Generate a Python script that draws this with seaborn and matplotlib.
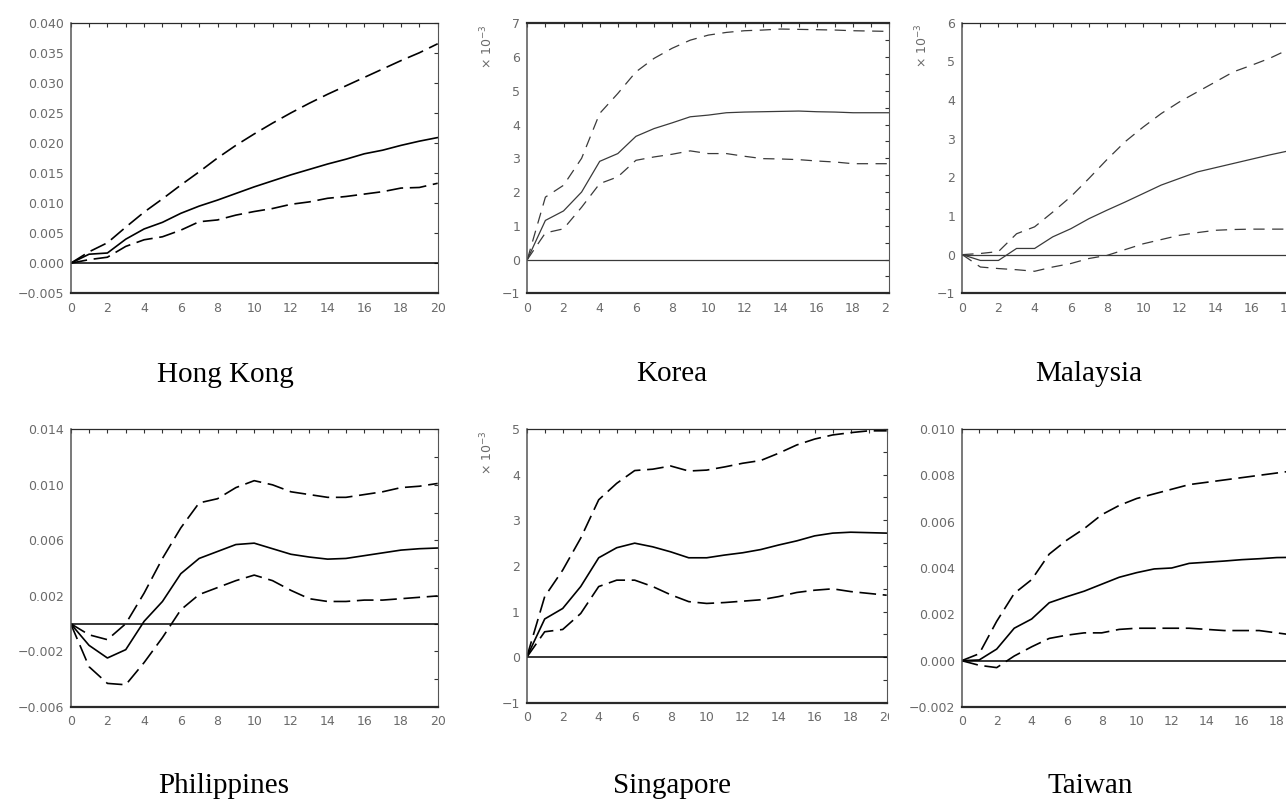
import numpy as np
import matplotlib
matplotlib.use('Agg')
import matplotlib.pyplot as plt
from matplotlib.patches import Rectangle
from matplotlib.ticker import FixedLocator, FuncFormatter
import seaborn as sns

# horizon (quarters after the shock)
steps = list(range(21))

# impulse responses with lower / upper bands
hk_irf = [0, .0015, .0017, .0040, .0057, .0068, .0083, .0095, .0105, .0116, .0127,
          .0137, .0147, .0156, .0165, .0173, .0182, .0188, .0196, .0203, .0209]
hk_upper = [0, .0019, .0034, .0060, .0085, .0107, .0130, .0152, .0175, .0196, .0215,
            .0233, .0250, .0266, .0281, .0295, .0309, .0323, .0337, .0350, .0365]
hk_lower = [0, .0006, .0010, .0028, .0039, .0044, .0055, .0069, .0072, .0080, .0086,
            .0091, .0098, .0102, .0108, .0111, .0115, .0119, .0125, .0126, .0133]

# Korea, Malaysia, Singapore in units of 10^-3
kr_irf = [0, 1.16, 1.44, 2.00, 2.91, 3.14, 3.65, 3.88, 4.05, 4.23, 4.28,
          4.35, 4.37, 4.38, 4.39, 4.40, 4.38, 4.37, 4.35, 4.35, 4.35]
kr_upper = [0, 1.85, 2.20, 3.00, 4.33, 4.92, 5.56, 5.96, 6.26, 6.50, 6.65,
            6.73, 6.78, 6.80, 6.83, 6.82, 6.81, 6.80, 6.78, 6.77, 6.76]
kr_lower = [0, 0.79, 0.91, 1.55, 2.25, 2.45, 2.94, 3.04, 3.12, 3.22, 3.14,
            3.14, 3.06, 2.99, 2.98, 2.96, 2.92, 2.89, 2.84, 2.84, 2.84]

my_irf = [0, -0.15, -0.15, 0.16, 0.16, 0.46, 0.67, 0.93, 1.15, 1.36, 1.58,
          1.80, 1.97, 2.14, 2.25, 2.36, 2.47, 2.58, 2.68, 2.77, 2.85]
my_upper = [0, 0.03, 0.08, 0.54, 0.72, 1.10, 1.50, 1.97, 2.46, 2.92, 3.30,
            3.65, 3.95, 4.21, 4.47, 4.73, 4.90, 5.08, 5.30, 5.48, 5.65]
my_lower = [0, -0.32, -0.36, -0.39, -0.43, -0.32, -0.23, -0.10, -0.02, 0.13, 0.28,
            0.39, 0.50, 0.57, 0.63, 0.65, 0.66, 0.66, 0.66, 0.66, 0.66]

ph_irf = [0, -.00156, -.00247, -.00187, .00017, .0016, .0036, .0047, .0052, .0057, .0058,
          .0054, .0050, .0048, .00465, .0047, .0049, .0051, .0053, .0054, .00545]
ph_upper = [0, -.0008, -.00115, .0000, .0022, .0047, .0069, .0087, .0090, .0098, .0103,
            .0100, .0095, .0093, .0091, .0091, .0093, .0095, .0098, .0099, .0101]
ph_lower = [0, -.0031, -.0043, -.0044, -.0028, -.0010, .0010, .0021, .0026, .0031, .0035,
            .0031, .0024, .0018, .0016, .0016, .0017, .0017, .0018, .0019, .0020]

sg_irf = [0, 0.84, 1.07, 1.55, 2.18, 2.40, 2.50, 2.42, 2.31, 2.18, 2.18,
          2.24, 2.29, 2.36, 2.46, 2.55, 2.66, 2.72, 2.74, 2.73, 2.72]
sg_upper = [0, 1.33, 1.91, 2.61, 3.45, 3.81, 4.09, 4.12, 4.19, 4.08, 4.10,
            4.17, 4.25, 4.31, 4.47, 4.65, 4.78, 4.87, 4.92, 4.96, 4.96]
sg_lower = [0, 0.56, 0.61, 0.96, 1.55, 1.69, 1.69, 1.55, 1.37, 1.22, 1.18,
            1.20, 1.23, 1.26, 1.33, 1.42, 1.47, 1.50, 1.44, 1.40, 1.36]

tw_irf = [0, .00003, .0005, .0014, .0018, .0025, .00276, .0030, .0033, .0036, .0038,
          .00396, .0040, .0042, .00425, .0043, .00436, .0044, .00445, .00446, .0045]
tw_upper = [0, .0003, .0017, .0029, .0035, .0046, .0052, .0057, .0063, .0067, .0070,
            .0072, .0074, .0076, .0077, .0078, .0079, .0080, .0081, .0082, .0083]
tw_lower = [0, -.0002, -.0003, .0002, .0006, .00096, .0011, .0012, .0012, .00135, .0014,
            .0014, .0014, .0014, .00135, .0013, .0013, .0013, .0012, .0011, .0010]

sns.set_style('white')
plt.rcParams['font.family'] = ['DejaVu Sans']

W, H = 1286, 799
fig = plt.figure(figsize=(W / 100, H / 100), dpi=100)

TICK_GREY = '#6a6a6a'


def dec_fmt(v, pos):
    s = f"{round(v, 6):.3f}"
    return s.replace('-', '\u2212')


def int_fmt(v, pos):
    s = f"{int(round(v))}"
    return s.replace('-', '\u2212')


# (name, series, pixel box l/r/t/b, ylim, major y, minor y, scaled?, thin?, title pos)
panels = [
    ('Hong Kong', (hk_irf, hk_upper, hk_lower), (70.7, 437.7, 22.7, 293.3),
     (-0.005, 0.040), np.arange(-0.005, 0.0401, 0.005), [], False, False, (225, 382)),
    ('Korea', (kr_irf, kr_upper, kr_lower), (527.3, 889.3, 23.3, 293.3),
     (-1, 7), np.arange(-1, 7.1, 1), np.arange(-0.5, 7, 1), True, True, (672, 381)),
    ('Malaysia', (my_irf, my_upper, my_lower), (962.3, 1324, 22.7, 293.3),
     (-1, 6), np.arange(-1, 6.1, 1), np.arange(-0.5, 6, 1), True, True, (1089, 381)),
    ('Philippines', (ph_irf, ph_upper, ph_lower), (70.7, 437.7, 429.3, 707),
     (-0.006, 0.014), np.arange(-0.006, 0.0141, 0.004), np.arange(-0.004, 0.013, 0.004),
     False, False, (224, 793)),
    ('Singapore', (sg_irf, sg_upper, sg_lower), (526.7, 886.7, 429, 703),
     (-1, 5), np.arange(-1, 5.1, 1), np.arange(-0.5, 5, 1), True, False, (672, 793)),
    ('Taiwan', (tw_irf, tw_upper, tw_lower), (961.7, 1311.7, 429, 707),
     (-0.002, 0.010), np.arange(-0.002, 0.0101, 0.002), np.arange(-0.001, 0.010, 0.002),
     False, False, (1090, 793)),
]

for name, (irf, upper, lower), (l, r, t, b), ylim, ymaj, ymin, scaled, thin, tpos in panels:
    ax = fig.add_axes([l / W, 1 - b / H, (r - l) / W, (b - t) / H])
    lc = '#3a3a3a' if thin else 'black'
    lw = 0.9 if thin else 1.2
    dash = (9, 6) if thin else (10, 4)

    ax.axhline(0, color=lc, lw=0.9 if thin else 1.1, zorder=1)
    sns.lineplot(x=steps, y=irf, ax=ax, color=lc, lw=lw)
    for band in (upper, lower):
        sns.lineplot(x=steps, y=band, ax=ax, color=lc, lw=lw)
        ax.lines[-1].set_dashes(dash)

    ax.set_xlim(0, 20)
    ax.set_ylim(*ylim)
    ax.xaxis.set_major_locator(FixedLocator(np.arange(0, 21, 2)))
    ax.xaxis.set_minor_locator(FixedLocator(np.arange(1, 20, 2)))
    ax.yaxis.set_major_locator(FixedLocator(ymaj))
    ax.yaxis.set_minor_locator(FixedLocator(ymin))
    ax.yaxis.set_major_formatter(FuncFormatter(int_fmt if scaled else dec_fmt))
    ax.xaxis.set_major_formatter(FuncFormatter(int_fmt))
    ax.tick_params(which='both', direction='in', top=True, right=True,
                   length=3, width=0.8, color='#333333',
                   labelcolor=TICK_GREY, labelsize=9)
    ax.tick_params(axis='x', pad=6)
    ax.tick_params(axis='y', pad=5)
    ax.set_xlabel('')
    ax.set_ylabel('')

    for side, sw in (('bottom', 1.6), ('top', 1.6 if name == 'Korea' else 0.9),
                     ('left', 1.1), ('right', 0.8)):
        ax.spines[side].set_visible(True)
        ax.spines[side].set_linewidth(sw)
        ax.spines[side].set_color('#2a2a2a' if side in ('bottom', 'top') else '#555555')

    if scaled:
        fig.text((l - 40) / W, 1 - (t + 1) / H, '\u00d7 10$^{-3}$', rotation=90,
                 ha='center', va='top', fontsize=9, color=TICK_GREY)

    fig.text(tpos[0] / W, 1 - tpos[1] / H, name, ha='center', va='baseline',
             family='Liberation Serif', fontsize=21, color='black')

# the source panels are cropped images: the right-most "20" labels are cut off
for yy in (296, 706):
    fig.add_artist(Rectangle((889.5 / W, 1 - (yy + 22) / H), 16 / W, 22 / H,
                             transform=fig.transFigure, facecolor='white',
                             edgecolor='none', zorder=5))

fig.savefig('out.png', dpi=100)
